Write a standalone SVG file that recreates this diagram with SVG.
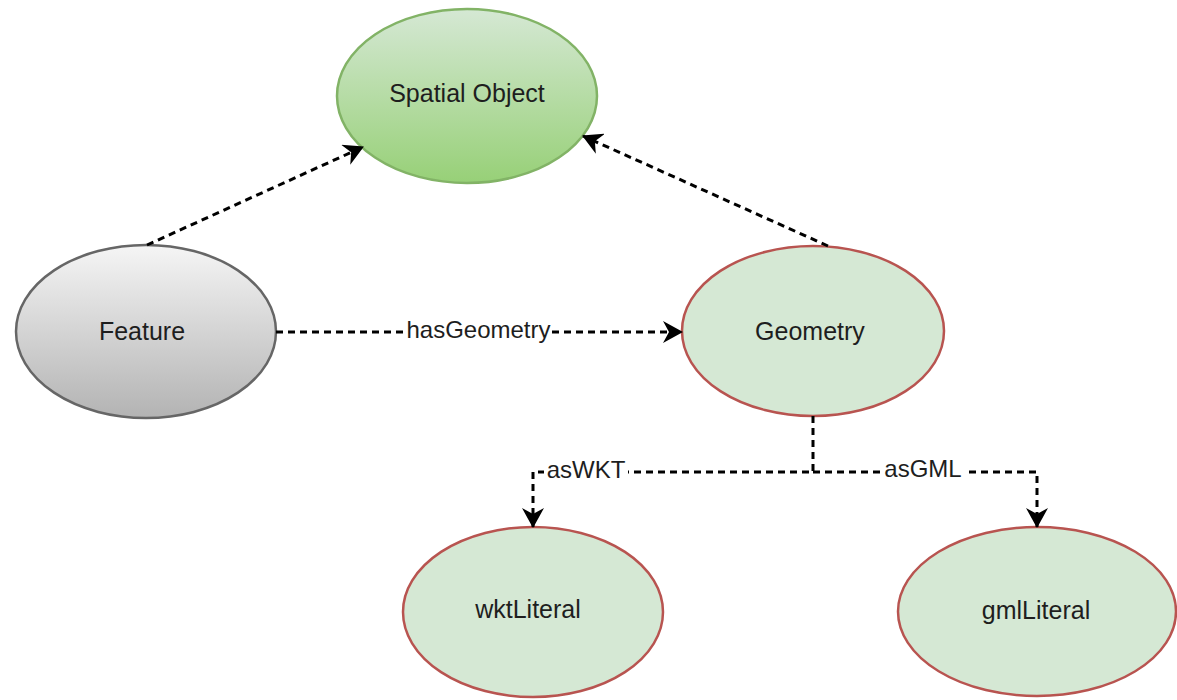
<svg xmlns="http://www.w3.org/2000/svg" width="1177" height="700" viewBox="0 0 1177 700">
  <defs>
    <linearGradient id="gradGreen" x1="0" y1="0" x2="0" y2="1">
      <stop offset="0" stop-color="#d5e8d4"/>
      <stop offset="1" stop-color="#97d077"/>
    </linearGradient>
    <linearGradient id="gradGray" x1="0" y1="0" x2="0" y2="1">
      <stop offset="0" stop-color="#f5f5f5"/>
      <stop offset="1" stop-color="#b3b3b3"/>
    </linearGradient>
    <marker id="arrow" markerUnits="userSpaceOnUse" markerWidth="20" markerHeight="22" viewBox="0 0 20 22" refX="19" refY="11" orient="auto">
      <path d="M0,0 L20,11 L0,22 L6,11 z" fill="#000"/>
    </marker>
    <style>
      .node-label { font-family: "Liberation Sans", Arial, sans-serif; font-size: 25px; fill: #1e1e1e; text-anchor: middle; }
      .edge-label { font-family: "Liberation Sans", Arial, sans-serif; font-size: 24px; fill: #1e1e1e; text-anchor: middle; }
      .edge { fill: none; stroke: #000; stroke-width: 3; stroke-dasharray: 7 5; }
      .label-bg { fill: #ffffff; }
      .class-node { fill: #d5e8d4; stroke: #b85450; stroke-width: 2.5; }
    </style>
  </defs>

  <rect x="0" y="0" width="1177" height="700" fill="#ffffff"/>

  <!-- nodes -->
  <g id="spatial-object">
    <ellipse cx="467" cy="96" rx="130" ry="87" fill="url(#gradGreen)" stroke="#82b366" stroke-width="2.5"/>
    <text class="node-label" x="467" y="102">Spatial Object</text>
  </g>
  <g id="feature">
    <ellipse cx="146" cy="331.5" rx="130" ry="86.5" fill="url(#gradGray)" stroke="#666666" stroke-width="2.5"/>
    <text class="node-label" x="142" y="340">Feature</text>
  </g>
  <g id="geometry">
    <ellipse class="class-node" cx="813" cy="331" rx="131" ry="85"/>
    <text class="node-label" x="810" y="340">Geometry</text>
  </g>
  <g id="wkt-literal">
    <ellipse class="class-node" cx="533" cy="612" rx="130" ry="85"/>
    <text class="node-label" x="528" y="618">wktLiteral</text>
  </g>
  <g id="gml-literal">
    <ellipse class="class-node" cx="1037" cy="611.5" rx="139" ry="84.5"/>
    <text class="node-label" x="1036" y="619">gmlLiteral</text>
  </g>

  <!-- connectors -->
  <g id="connectors">
    <path class="edge" d="M147,245 L363,147" marker-end="url(#arrow)"/>
    <path class="edge" d="M828,246 L583,136" marker-end="url(#arrow)"/>
    <path class="edge" d="M276,332 L682,332" marker-end="url(#arrow)"/>
    <path class="edge" d="M813,416 L813,472 L533,472 L533,527" marker-end="url(#arrow)"/>
    <path class="edge" d="M813,472 L1037,472 L1037,527" marker-end="url(#arrow)"/>

    <rect class="label-bg" x="408" y="318" width="141" height="26"/>
    <text class="edge-label" x="478.5" y="338">hasGeometry</text>
    <rect class="label-bg" x="544" y="457" width="84" height="26"/>
    <text class="edge-label" x="586" y="478">asWKT</text>
    <rect class="label-bg" x="881" y="457" width="85" height="26"/>
    <text class="edge-label" x="923" y="477">asGML</text>
  </g>
</svg>
